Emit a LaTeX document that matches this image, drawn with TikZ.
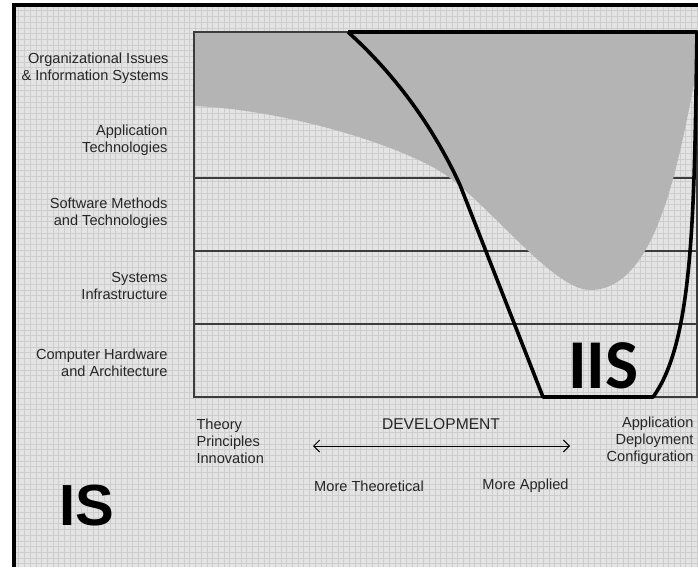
\documentclass[tikz,border=0pt]{standalone}
\usepackage{fontspec}
\setmainfont{Liberation Sans}
\newfontfamily\calibri{Carlito}
\usepackage{tikz}
\usetikzlibrary{positioning, arrows, arrows.meta, calc}

\definecolor{paper}{HTML}{E4E4E4}
\definecolor{raster}{HTML}{CDCDCD}
\definecolor{iisgray}{HTML}{B4B4B4}
\definecolor{rule}{HTML}{3C3C3C}

\tikzset{
    layer/.style={anchor=east, align=right, font=\fontsize{14.6}{17.5}\selectfont, text=black!85},
    side/.style={align=left, font=\fontsize{14.6}{17.2}\selectfont, text=black!85},
    band/.style={rule, line width=1.1pt},
}

\begin{document}
\begin{tikzpicture}[x=1pt, y=-1pt]
        \def\xlines{121}
        \def\ylines{99}
        \def\raster{5.7}

        \useasboundingbox (0,0) rectangle (698,567);
        \fill[white] (0,0) rectangle (698,567);
        \fill[paper] (13,5) rectangle (698,567);

        % draw vertical lines
        \foreach \x in {0,...,\xlines}
        {
            \draw[raster, line width=0.5pt] (13 + \x * \raster, 5) -- (13 + \x * \raster, 567);
        }

        % draw horizontal lines
        \foreach \y in {0,...,\ylines}
        {
            \draw[raster, line width=0.5pt] (13, 5 + \y * \raster) -- (698, 5 + \y * \raster);
        }

        % frame
        \draw[black, line width=4pt] (13.5,567) -- (13.5,5.5) -- (698,5.5);

        % band borders
        \foreach \y in {178,251,324}
        {
            \draw[band] (194,\y) -- (697,\y);
        }

        % gray area
        \fill[iisgray] (194,32) -- (697,32) -- (697,70)
            .. controls (680,150) and (660,290) .. (590,290)
            .. controls (555,290) and (495,212) .. (450,178)
            .. controls (410,148) and (290,110) .. (194,106) -- cycle;

        % box
        \draw[band] (194,32) rectangle (697,397);

        % IIS outline
        \coordinate (iisTL) at (348,32);
        \coordinate (iisTR) at (697,32);
        \coordinate (iisBR) at (653,397);
        \coordinate (iisBL) at (543,397);
        \coordinate (iisK) at (460,185);
        \draw[black, line width=3.6pt, line join=round] (iisTL) -- (iisTR)
            .. controls (694,200) and (695,340) .. (iisBR) -- (iisBL) -- (iisK)
            .. controls (430,120) and (390,70) .. (iisTL);

        % layers
        \node[layer] (org) at (172,68) {Organizational Issues\\\& Information Systems};
        \node[layer] (apptech) at (171,140) {Application\\Technologies};
        \node[layer] (soft) at (171,213) {Software Methods\\and Technologies};
        \node[layer] (sys) at (171,286) {Systems\\Infrastructure};
        \node[layer] (hw) at (171,363) {Computer Hardware\\and Architecture};

        % axis
        \node[side, anchor=west] (theory) at (193,441) {Theory\\Principles\\Innovation};
        \node[side, anchor=east, align=right] (appl) at (697,441) {Application\\Deployment\\Configuration};
        \node[side, font=\fontsize{15.6}{18}\selectfont] (dev) at (441,424) {DEVELOPMENT};
        \coordinate (devL) at (313,446);
        \coordinate (devR) at (570,446);
        \draw[{Straight Barb[length=6pt,width=12pt]}-{Straight Barb[length=6pt,width=12pt]}, line width=1pt] (devL) -- (devR);
        \node[side] (moretheo) at (369,486) {More Theoretical};
        \node[side] (moreappl) at (525.5,486) {More Applied};

        % big labels
        \node[anchor=base, font=\calibri\bfseries\fontsize{70}{70}\selectfont] (iis) at (603.5,388) {IIS};
        \node[anchor=base, font=\bfseries\fontsize{58}{58}\selectfont] (is) at (86.5,525) {IS};
    \end{tikzpicture}
\end{document}
